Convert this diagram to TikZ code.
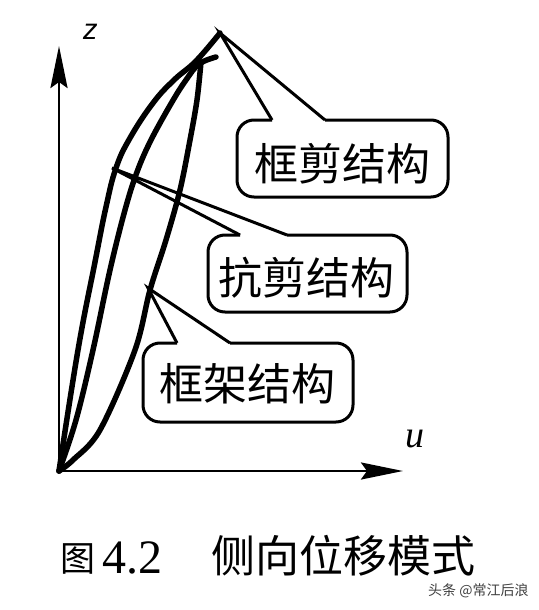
\documentclass[tikz,border=0pt]{standalone}
\usepackage{fontspec}
\newfontfamily\cjk{Noto Sans CJK SC}
\newfontfamily\tnr{Liberation Serif}
\newfontfamily\arl{Liberation Sans}
\usetikzlibrary{arrows.meta}
\begin{document}
\begin{tikzpicture}[x=1pt,y=-1pt,
  curve/.style={line width=5.5pt, line cap=round, line join=round},
  axis/.style={line width=2.8pt, -{Stealth[length=42pt,width=17pt,inset=6pt]}},
  callbox/.style={line width=3pt, rounded corners=17pt},
  tail/.style={line width=3pt, line join=miter},
  lbl/.style={font=\cjk\fontsize{44}{44}\selectfont, inner sep=0pt, anchor=base},
  txtcap/.style={inner sep=0pt, anchor=base west}
]
\useasboundingbox[fill=white] (0,0) rectangle (538,610);

% axes
\coordinate (O) at (59,471);
\coordinate (ztip) at (59,46);
\coordinate (utip) at (403,471);
\draw[axis] (O) -- (ztip);
\draw[axis] (O) -- (utip);
\node[txtcap] (zl) at (83,40) {\arl\itshape\fontsize{29}{29}\selectfont z};
\node[txtcap] (ul) at (405,447) {\tnr\itshape\fontsize{38}{38}\selectfont u};

% curves
\draw[curve] plot[smooth, tension=0.7] coordinates {(59,471) (78,350) (95,262) (106,207) (116,168) (130,138) (153,103) (174,80) (196,61) (220,33)};
\draw[curve] plot[smooth, tension=0.6] coordinates {(59,471) (76,420) (93,350) (110,270) (125,210) (137,172) (151,140) (172,102) (186,80) (199,64) (216,57)};
\draw[curve] plot[smooth, tension=0.55] coordinates {(59,471) (73,460) (100,430) (135,350) (150,290) (166,240) (180,190) (190,140) (197,100) (201,62)};

% callout tips
\coordinate (tipA) at (220,33);
\coordinate (tipB) at (112,168);
\coordinate (tipC) at (148,288);

% callout 1
\draw[callbox] (272,120) -- (237,120) -- (237,197) -- (448,197) -- (448,120) -- (325,120);
\draw[tail] (272,120) -- (tipA) -- (325,120);
\node[lbl] (kj) at (342,180) {框剪结构};

% callout 2
\draw[callbox] (240,235) -- (208,235) -- (208,312) -- (407,312) -- (407,235) -- (287,235);
\draw[tail] (240,235) -- (tipB) -- (287,235);
\node[lbl] (kjj) at (306,294) {抗剪结构};

% callout 3
\draw[callbox] (177,343) -- (143,343) -- (143,422) -- (353,422) -- (353,343) -- (230,343);
\draw[tail] (177,343) -- (tipC) -- (230,343);
\node[lbl] (kjg) at (247,400) {框架结构};

% caption
\node[txtcap] (c1) at (60,571) {\cjk\fontsize{35}{35}\selectfont 图};
\node[txtcap] (c2) at (102,573) {\tnr\fontsize{48}{48}\selectfont 4.2};
\node[txtcap] (c3) at (211,572) {\cjk\fontsize{44}{44}\selectfont 侧向位移模式};

% watermark
\node[txtcap, text=black!75] (wm) at (428,595) {\cjk\fontsize{14}{14}\selectfont 头条 @常江后浪};
\end{tikzpicture}
\end{document}
